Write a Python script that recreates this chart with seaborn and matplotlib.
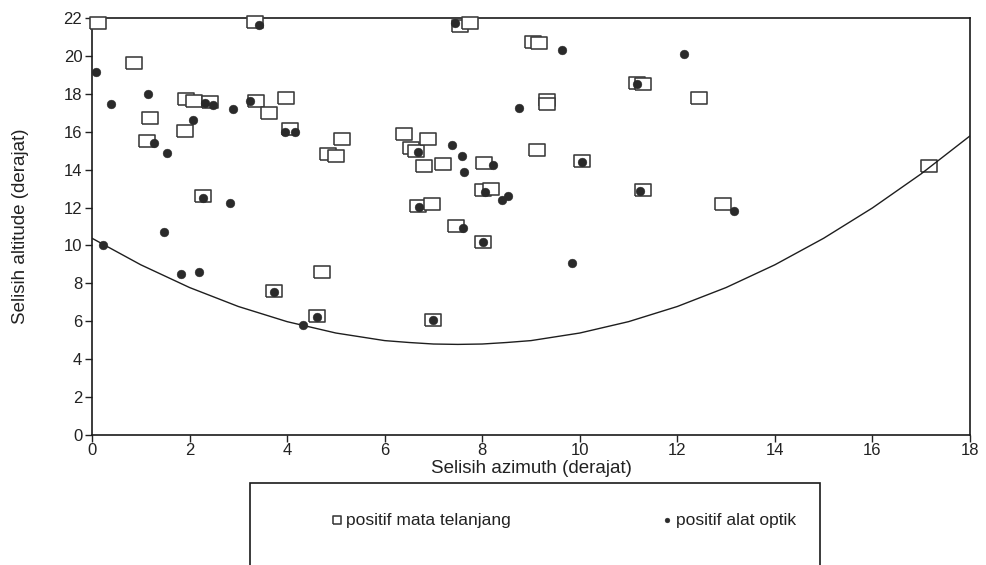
import matplotlib
matplotlib.use("Agg")
import matplotlib.pyplot as plt
from matplotlib.patches import Rectangle
import seaborn as sns
import pandas as pd

# ---- data ----
mata_x = [0.12, 0.86, 1.12, 1.19, 1.90, 1.93, 2.09, 2.28, 2.42, 3.34, 3.36, 3.63, 3.98, 4.06,
          3.73, 4.72, 4.61, 4.83, 5.00, 5.12, 6.40, 6.55, 6.65, 6.69, 6.80, 6.89, 6.97, 6.99,
          7.20, 7.46, 7.54, 7.75, 8.02, 8.04, 8.18, 8.01, 9.04, 9.16, 9.12, 9.33, 9.33, 10.04,
          11.17, 11.30, 11.30, 12.44, 12.93, 17.16]
mata_y = [21.75, 19.65, 15.50, 16.70, 16.05, 17.75, 17.60, 12.60, 17.55, 21.80, 17.60, 17.00, 17.80, 16.15,
          7.60, 8.60, 6.30, 14.85, 14.70, 15.60, 15.90, 15.15, 15.00, 12.10, 14.20, 15.60, 12.20, 6.05,
          14.30, 11.05, 21.60, 21.75, 12.90, 14.35, 13.00, 10.20, 20.75, 20.70, 15.05, 17.70, 17.45, 14.45,
          18.55, 18.50, 12.90, 17.80, 12.20, 14.20]

optik_x = [0.08, 0.22, 0.39, 1.15, 1.27, 1.48, 1.53, 1.82, 2.07, 2.19, 2.27, 2.32, 2.48, 2.83,
           2.89, 3.24, 3.42, 3.73, 3.96, 4.16, 4.33, 4.61, 6.68, 6.70, 6.99, 7.38, 7.44, 7.58,
           7.60, 7.63, 8.01, 8.06, 8.22, 8.40, 8.53, 8.75, 9.63, 9.84, 10.04, 11.17, 11.23,
           12.13, 13.16]
optik_y = [19.15, 10.00, 17.45, 18.00, 15.40, 10.70, 14.90, 8.50, 16.60, 8.60, 12.50, 17.50, 17.40, 12.25,
           17.20, 17.60, 21.65, 7.55, 16.00, 16.00, 5.78, 6.20, 14.95, 12.05, 6.05, 15.30, 21.75, 14.70,
           10.90, 13.90, 10.20, 12.80, 14.25, 12.40, 12.60, 17.25, 20.30, 9.05, 14.40, 18.50, 12.85,
           20.10, 11.80]

curve_x = [0, 0.5, 1, 1.5, 2, 2.5, 3, 3.5, 4, 4.5, 5, 5.5, 6, 6.5, 7, 7.5, 8, 8.5, 9, 9.5,
           10, 10.5, 11, 11.5, 12, 12.5, 13, 13.5, 14, 14.5, 15, 15.5, 16, 16.5, 17, 17.5, 18]
curve_y = [10.38, 9.68, 8.98, 8.38, 7.78, 7.28, 6.78, 6.38, 5.98, 5.68, 5.38, 5.18, 4.98, 4.88,
           4.80, 4.78, 4.80, 4.88, 4.98, 5.18, 5.38, 5.68, 5.98, 6.38, 6.78, 7.28, 7.78, 8.38,
           8.98, 9.68, 10.38, 11.18, 11.98, 12.88, 13.78, 14.78, 15.78]

x_ticks = [0, 2, 4, 6, 8, 10, 12, 14, 16, 18]
y_ticks = [0, 2, 4, 6, 8, 10, 12, 14, 16, 18, 20, 22]

label_mata = "positif mata telanjang"
label_optik = "positif alat optik"
x_label = "Selisih azimuth (derajat)"
y_label = "Selisih altitude (derajat)"

# ---- styling ----
sns.set_style("white")
plt.rcParams["font.family"] = ["Liberation Sans", "DejaVu Sans"]

W, H = 987, 565
fig = plt.figure(figsize=(W / 100, H / 100), dpi=100)
ax = fig.add_axes([92 / W, 1 - 435 / H, 878 / W, 417 / H])

df_mata = pd.DataFrame({"x": mata_x, "y": mata_y})
df_optik = pd.DataFrame({"x": optik_x, "y": optik_y})
df_curve = pd.DataFrame({"x": curve_x, "y": curve_y})

rect_marker = [(-1.0, -0.8), (1.0, -0.8), (1.0, 0.8), (-1.0, 0.8), (-1.0, -0.8)]

sns.scatterplot(data=df_mata, x="x", y="y", ax=ax, marker=rect_marker, s=135,
                color="white", edgecolor="#3a3a3a", linewidth=1.15,
                label=label_mata, zorder=3, clip_on=False)
sns.lineplot(data=df_curve, x="x", y="y", ax=ax, color="#1e1e1e", linewidth=1.0,
             zorder=4, legend=False)
sns.scatterplot(data=df_optik, x="x", y="y", ax=ax, marker="o", s=40,
                color="#2a2a2a", edgecolor="#2a2a2a", linewidth=0.3,
                label=label_optik, zorder=5, clip_on=False)

ax.set_xlim(0, 18)
ax.set_ylim(0, 22)
ax.set_xticks(x_ticks)
ax.set_yticks(y_ticks)
ax.set_xticklabels([str(t) for t in x_ticks])
ax.set_yticklabels([str(t) for t in y_ticks])
ax.tick_params(axis="both", which="major", direction="out", length=5, width=1,
               color="#222222", labelsize=12, labelcolor="#222222",
               bottom=True, left=True, top=False, right=False, pad=2)
ax.tick_params(axis="x", pad=1)
for sp in ax.spines.values():
    sp.set_visible(True)
    sp.set_color("#1a1a1a")
    sp.set_linewidth(1.2)

ax.set_xlabel(x_label, fontsize=13.5, color="#222222")
ax.set_ylabel(y_label, fontsize=13.5, color="#222222")
ax.xaxis.set_label_coords(0.5, (435 - 460) / 417)
ax.yaxis.set_label_coords((29 - 92) / 878, 0.5)

# legend
handles, labels = ax.get_legend_handles_labels()
ax.get_legend().remove()
fig.patches.append(Rectangle((250 / W, -0.2), 570 / W, 0.2 + 1 - 483 / H,
                             transform=fig.transFigure, fill=False,
                             edgecolor="#1a1a1a", linewidth=1.2, clip_on=False))
fig.legend(handles, labels, loc="center", bbox_to_anchor=(563 / W, 1 - 520 / H),
           ncol=2, frameon=False, fontsize=12.5, markerscale=0.55,
           handletextpad=0.1, columnspacing=8.6, handlelength=0.8,
           labelcolor="#222222")

fig.savefig("out.png", dpi=100)
